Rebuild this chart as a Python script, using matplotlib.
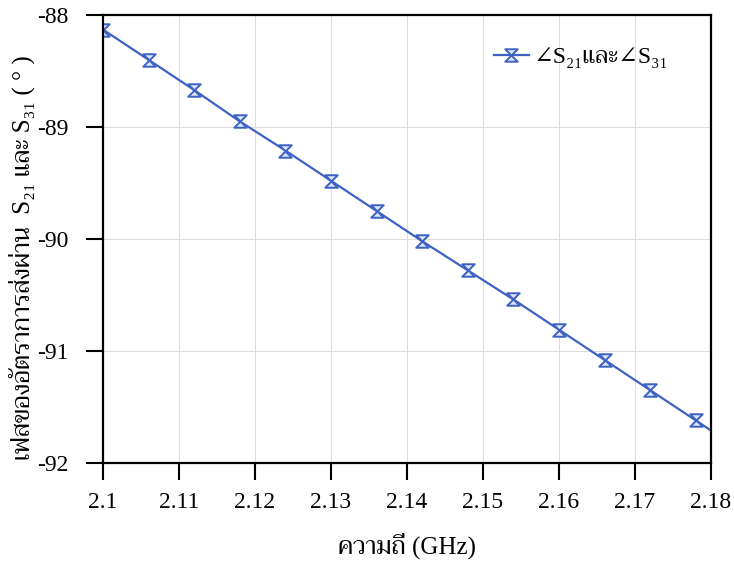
import matplotlib
matplotlib.use("Agg")
import matplotlib.pyplot as plt
from matplotlib.path import Path

# frequency (GHz) and phase (deg)
freq = [2.1, 2.106, 2.112, 2.118, 2.124, 2.13, 2.136, 2.142, 2.148,
        2.154, 2.16, 2.166, 2.172, 2.178, 2.18]
phase = [-88.13, -88.40, -88.67, -88.95, -89.21, -89.48, -89.75, -90.02,
         -90.28, -90.54, -90.81, -91.08, -91.35, -91.62, -91.71]

x_ticks = [2.1, 2.11, 2.12, 2.13, 2.14, 2.15, 2.16, 2.17, 2.18]
x_tick_labels = ["2.1", "2.11", "2.12", "2.13", "2.14", "2.15", "2.16", "2.17", "2.18"]
y_ticks = [-92, -91, -90, -89, -88]

# Times-like for latin, Trirong for Thai (no mathtext: it can't do Thai)
plt.rcParams["font.family"] = ["Liberation Serif", "Trirong", "DejaVu Serif"]
plt.rcParams["axes.unicode_minus"] = False

hourglass = Path([(-1, 1), (1, 1), (-1, -1), (1, -1), (-1, 1)],
                 [Path.MOVETO, Path.LINETO, Path.LINETO, Path.LINETO, Path.CLOSEPOLY])

fig = plt.figure(figsize=(7.34, 5.75), dpi=100)
ax = fig.add_axes([0.1403, 0.1948, 0.8284, 0.7791])

color = "#3d62c4"
ax.plot(freq, phase, color=color, lw=1.6, marker=hourglass, markersize=9,
        markerfacecolor="#dde5f7", markeredgecolor=color, markeredgewidth=1.4,
        markevery=list(range(len(freq) - 1)),
        label="∠S₂₁และ∠S₃₁")

ax.set_xlim(2.1, 2.18)
ax.set_ylim(-92, -88)
ax.set_xticks(x_ticks)
ax.set_xticklabels(x_tick_labels)
ax.set_yticks(y_ticks)
ax.grid(True, color="#dcdcdc", lw=0.7)
ax.tick_params(direction="out", length=12, width=1.5, labelsize=17)
ax.tick_params(axis="x", pad=9)
ax.tick_params(axis="y", pad=13)
for s in ax.spines.values():
    s.set_linewidth(1.6)

ax.set_xlabel("ความถี่ (GHz)", fontsize=18, labelpad=14)
ax.set_ylabel("เฟสของอัตราการส่งผ่าน  S₂₁ และ S₃₁ ( ° )", fontsize=18)
ax.yaxis.set_label_coords(-0.112, 0.458)

ax.legend(loc="upper right", bbox_to_anchor=(1.0, 1.024), frameon=False,
          fontsize=17, handlelength=1.5, handletextpad=0.2, borderaxespad=1.4)

fig.savefig("out.png", dpi=100)
